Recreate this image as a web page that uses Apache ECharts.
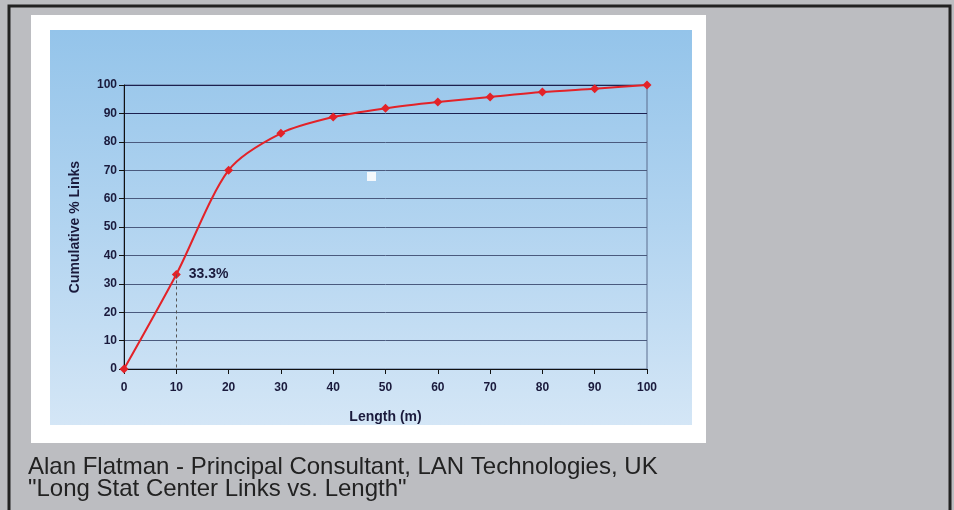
<!DOCTYPE html>
<html>
<head>
<meta charset="utf-8">
<script src="https://cdn.jsdelivr.net/npm/echarts@6/dist/echarts.min.js"></script>
<style>
html,body{margin:0;padding:0;background:#bcbdc1;}
#c{width:954px;height:510px;}
</style>
</head>
<body>
<div id="c"></div>
<script>
const lengths = [0, 10, 20, 30, 40, 50, 60, 70, 80, 90, 100];
const cumulative = [0, 33.3, 70, 83, 88.7, 91.8, 94, 95.8, 97.5, 98.7, 100];
const annotationIndex = 1;
const annotationText = '33.3%';
const yAxisTitle = 'Cumulative % Links';
const xAxisTitle = 'Length (m)';
const captionLines = ['Alan Flatman - Principal Consultant, LAN Technologies, UK', '"Long Stat Center Links vs. Length"'];

const chart = echarts.init(document.getElementById('c'), null, {renderer: 'canvas'});
const FONT = '"Liberation Sans", Arial, sans-serif';
const INK = '#1a1a3c';

const seriesData = lengths.map((x, i) => {
  const d = {value: [x, cumulative[i]]};
  if (i === annotationIndex) {
    d.label = {show: true, position: 'right', distance: 8, formatter: annotationText,
      fontFamily: FONT, fontWeight: 'bold', fontSize: 14, color: INK};
  }
  return d;
});

const option = {
  backgroundColor: '#bcbdc1',
  animation: false,
  graphic: [
    {type: 'rect', shape: {x: 9, y: 6, width: 941, height: 520}, style: {fill: 'none', stroke: '#222', lineWidth: 3}, z: -10},
    {type: 'rect', shape: {x: 31, y: 15, width: 675, height: 428}, style: {fill: '#ffffff'}, z: -9},
    {type: 'rect', shape: {x: 50, y: 30, width: 642, height: 395},
      style: {fill: new echarts.graphic.LinearGradient(0, 0, 0, 1, [
        {offset: 0, color: '#94c4ea'},
        {offset: 0.5, color: '#b2d4f0'},
        {offset: 1, color: '#d4e6f6'}
      ])}, z: -8},
    {type: 'rect', shape: {x: 367, y: 172, width: 9, height: 9}, style: {fill: '#f4f8fc'}, z: 5},
    {type: 'text', left: 28, top: 455, style: {text: captionLines[0], font: '24px ' + FONT, fill: '#222'}, z: 5},
    {type: 'text', left: 28, top: 477, style: {text: captionLines[1], font: '24px ' + FONT, fill: '#222'}, z: 5}
  ],
  grid: {left: 124, right: 307, top: 85, bottom: 141, show: true, borderColor: '#5a6c8e', borderWidth: 1, backgroundColor: 'transparent'},
  xAxis: {
    type: 'value', min: 0, max: 100, interval: 10,
    name: xAxisTitle, nameLocation: 'middle', nameGap: 41,
    nameTextStyle: {fontFamily: FONT, fontWeight: 'bold', fontSize: 14, color: INK},
    axisLine: {show: true, lineStyle: {color: '#111', width: 1}},
    axisTick: {show: true, inside: false, length: 5, lineStyle: {color: '#111'}},
    axisLabel: {margin: 13, fontFamily: FONT, fontWeight: 'bold', fontSize: 12, color: INK},
    splitLine: {show: false}
  },
  yAxis: {
    type: 'value', min: 0, max: 100, interval: 10,
    name: yAxisTitle, nameLocation: 'middle', nameGap: 42, nameRotate: 90,
    nameTextStyle: {fontFamily: FONT, fontWeight: 'bold', fontSize: 14, color: INK},
    axisLine: {show: true, lineStyle: {color: '#111', width: 1}},
    axisTick: {show: true, inside: false, length: 5, lineStyle: {color: '#111'}},
    axisLabel: {margin: 7, fontFamily: FONT, fontWeight: 'bold', fontSize: 12, color: INK},
    splitLine: {show: true, lineStyle: {width: 1, color: ['#4a5a7e','#4a5a7e','#4a5a7e','#4a5a7e','#4a5a7e','#4a5a7e','#4a5a7e','#4a5a7e','#4a5a7e','#1c2050','#1c2050']}}
  },
  series: [{
    type: 'line',
    data: seriesData,
    smooth: 0.28,
    symbol: 'diamond',
    symbolSize: 9,
    lineStyle: {color: '#e32228', width: 2},
    itemStyle: {color: '#e32228'},
    z: 3,
    markLine: {
      silent: true, symbol: 'none', label: {show: false},
      lineStyle: {type: [3, 3], color: '#555', width: 1},
      data: [[{coord: [lengths[annotationIndex], cumulative[annotationIndex]]}, {coord: [lengths[annotationIndex], 0]}]]
    }
  }]
};
chart.setOption(option);
</script>
</body>
</html>
